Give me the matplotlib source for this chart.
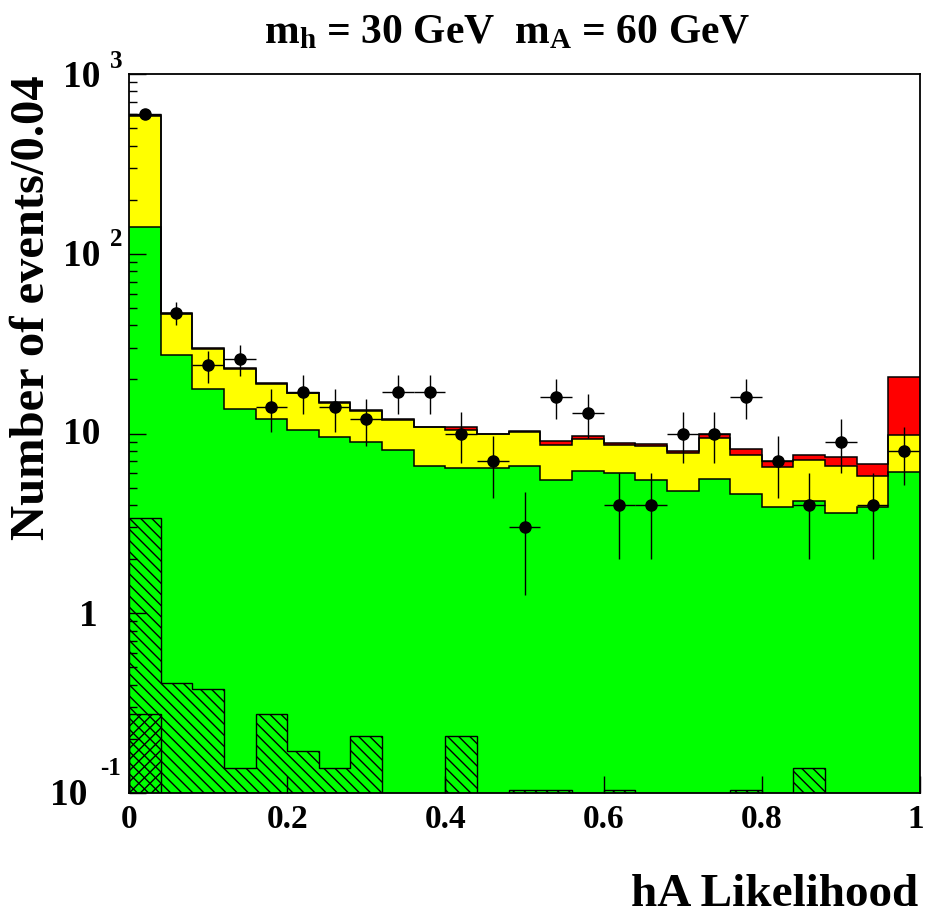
import numpy as np
import matplotlib
matplotlib.use("Agg")
import matplotlib.pyplot as plt
import matplotlib.transforms as mtransforms
from matplotlib.ticker import LogLocator, NullFormatter

plt.rcParams['font.family'] = ['Liberation Serif', 'DejaVu Serif']
plt.rcParams['font.weight'] = 'bold'
plt.rcParams['mathtext.fontset'] = 'custom'
plt.rcParams['mathtext.rm'] = 'Liberation Serif:bold'
plt.rcParams['mathtext.it'] = 'Liberation Serif:bold'
plt.rcParams['mathtext.bf'] = 'Liberation Serif:bold'
plt.rcParams['hatch.linewidth'] = 1.0

# 25 bins of width 0.04 on [0, 1]
edges = np.linspace(0.0, 1.0, 26)
centers = 0.5 * (edges[:-1] + edges[1:])

# stacked expectation: green (bottom), yellow, red (top)
bkg_green = [140, 27.3, 17.6, 13.7, 12.1, 10.5, 9.6, 9.0, 8.1, 6.6, 6.4, 6.4, 6.6,
             5.5, 6.2, 6.05, 5.5, 4.8, 5.6, 4.6, 3.9, 4.2, 3.6, 3.9, 6.1]
bkg_yellow = [445, 19.0, 12.0, 9.1, 6.7, 6.2, 5.1, 4.3, 3.8, 4.2, 4.0, 3.5, 3.6,
              3.1, 3.1, 2.55, 3.0, 3.0, 3.8, 3.0, 2.6, 2.9, 3.0, 1.9, 3.7]
sig_red = [4, 0.3, 0.2, 0.3, 0.2, 0.2, 0.3, 0.2, 0.2, 0.1, 0.4, 0.1, 0.1,
           0.5, 0.4, 0.2, 0.2, 0.2, 0.5, 0.6, 0.5, 0.5, 0.8, 1.0, 10.7]

# hatched overlays (not stacked)
hatch_diag = [3.4, 0.41, 0.38, 0.138, 0.275, 0.172, 0.138, 0.207, 0, 0, 0.207, 0, 0.104,
              0.104, 0, 0.104, 0, 0, 0, 0.104, 0, 0.138, 0, 0, 0]
hatch_cross = [0.275, 0, 0, 0, 0, 0, 0, 0, 0, 0, 0, 0, 0,
               0, 0, 0, 0, 0, 0, 0, 0, 0, 0, 0, 0]

# observed events
data = [600, 47, 24, 26, 14, 17, 14, 12, 17, 17, 10, 7, 3,
        16, 13, 4, 4, 10, 10, 16, 7, 4, 9, 4, 8]

green = np.array(bkg_green)
yellow_top = green + np.array(bkg_yellow)
total = yellow_top + np.array(sig_red)

fig = plt.figure(figsize=(9.26, 9.17), dpi=100)
ax = fig.add_axes([129 / 926, 124 / 917, 791 / 926, 719 / 917])
ax.set_yscale('log')

base = 1e-3
for vals, col in [(total, '#ff0000'), (yellow_top, '#ffff00'), (green, '#00ff00')]:
    ax.stairs(vals, edges, baseline=base, fill=True, color=col, lw=0, zorder=1)
    ax.stairs(vals, edges, baseline=None, color='black', lw=1.1, zorder=1.2)

hd = np.where(np.array(hatch_diag) > 0, hatch_diag, base)
hc = np.where(np.array(hatch_cross) > 0, hatch_cross, base)
ax.stairs(hd, edges, baseline=base, fill=True, facecolor='none', edgecolor='black',
          hatch='\\\\\\', lw=1.0, zorder=1.4)
ax.stairs(hc, edges, baseline=base, fill=True, facecolor='none', edgecolor='black',
          hatch='///', lw=1.0, zorder=1.5)

d = np.array(data, dtype=float)
ax.errorbar(centers, d, yerr=np.sqrt(d), xerr=0.02, fmt='o', color='black',
            ms=8, elinewidth=1.0, capsize=0, zorder=3)

ax.set_xlim(0, 1)
ax.set_ylim(0.1, 1000)
ax.set_axisbelow(False)

ax.set_xticks([0, 0.2, 0.4, 0.6, 0.8, 1.0])
ax.set_xticklabels(['0', '0.2', '0.4', '0.6', '0.8', '1'], fontsize=24, fontweight='bold')
ax.tick_params(axis='x', direction='in', length=12, width=1, pad=8)
# keep the last label inside the canvas
last = ax.get_xticklabels()[-1]
last.set_transform(last.get_transform() +
                   mtransforms.ScaledTranslation(-4 / 100, 0, fig.dpi_scale_trans))
ax.yaxis.set_major_locator(LogLocator(base=10, numticks=10))
ax.yaxis.set_minor_locator(LogLocator(base=10, subs=np.arange(2, 10), numticks=20))
ax.yaxis.set_major_formatter(NullFormatter())
ax.yaxis.set_minor_formatter(NullFormatter())
ax.tick_params(axis='y', which='major', direction='in', length=12, width=1)
ax.tick_params(axis='y', which='minor', direction='in', length=6, width=1)
for s in ax.spines.values():
    s.set_linewidth(1.3)

# y axis labels in ROOT style: base and raised exponent
def ylab(val, txt, dx, dy, size, ha='right'):
    ax.annotate(txt, xy=(0, val), xycoords=('axes fraction', 'data'),
                xytext=(dx, dy), textcoords='offset pixels',
                ha=ha, va='baseline', fontsize=size, fontweight='bold',
                annotation_clip=False)

ylab(1000, '10', -29, -13, 27)
ylab(1000, '3', -19, 6, 18, ha='left')
ylab(100, '10', -29, -12.5, 27)
ylab(100, '2', -19, 7.5, 18, ha='left')
ylab(10, '10', -29, -11, 27)
ylab(1, '1', -31, -13, 27)
ylab(0.1, '10', -42, -12, 27)
ylab(0.1, '-1', -29, 18, 18, ha='left')

fig.text(507 / 926, 1 - 43 / 917, r'$\mathrm{m_h}$ = 30 GeV  $\mathrm{m_A}$ = 60 GeV',
         ha='center', va='baseline', fontsize=30, fontweight='bold')
fig.text(918 / 926, 1 - 906 / 917, 'hA Likelihood', ha='right', va='baseline',
         fontsize=34, fontweight='bold')
fig.text(32 / 926, 1 - 308 / 917, 'Number of events/0.04', rotation=90,
         ha='center', va='center', fontsize=35, fontweight='bold')

fig.savefig('out.png', dpi=100)
